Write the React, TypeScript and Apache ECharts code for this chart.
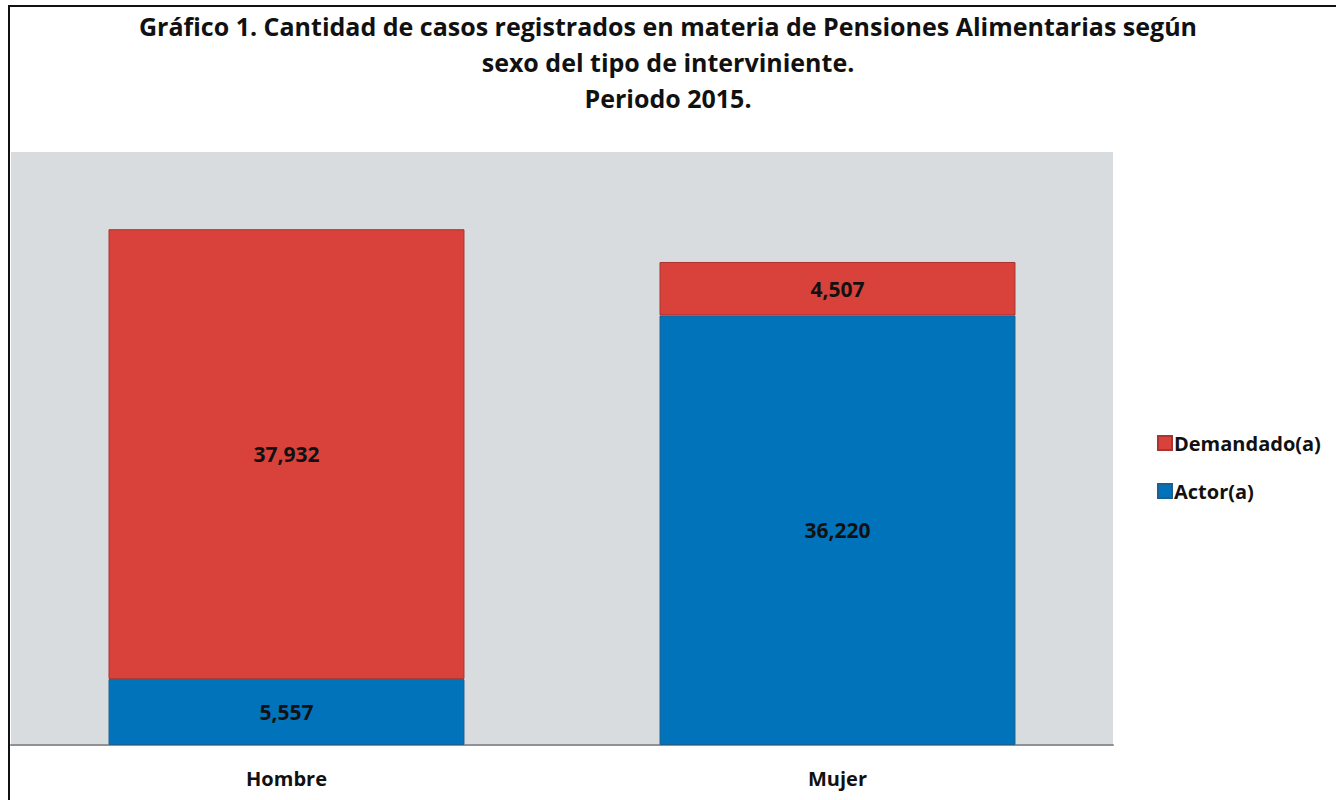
import React, { useEffect, useRef } from "react";
import * as echarts from "echarts";

const categories = ["Hombre", "Mujer"];
const actorValues = [5557, 36220];
const demandadoValues = [37932, 4507];
const seriesNames = ["Actor(a)", "Demandado(a)"];
const titleLines = [
  "Gráfico 1. Cantidad de casos registrados en materia de Pensiones Alimentarias según",
  "sexo del tipo de interviniente.",
  "Periodo 2015.",
];

const FONT = "'Open Sans', sans-serif";

export default function App() {
  const ref = useRef<HTMLDivElement>(null);
  useEffect(() => {
    if (!ref.current) return;
    const chart = echarts.init(ref.current, null, { renderer: "svg" });
    const fmt = (p: any) => Number(p.value).toLocaleString("en-US");
    const labelStyle = {
      show: true,
      position: "inside",
      formatter: fmt,
      color: "#111",
      fontFamily: FONT,
      fontWeight: "bold",
      fontSize: 21,
    };
    chart.setOption({
      animation: false,
      backgroundColor: "#ffffff",
      title: {
        text: titleLines.join("\n"),
        left: "center",
        top: 3,
        textStyle: {
          fontFamily: FONT,
          fontWeight: "bold",
          fontSize: 25,
          lineHeight: 36,
          color: "#111",
        },
      },
      graphic: [
        {
          type: "rect",
          shape: { x: 9, y: 6, width: 1340, height: 810 },
          style: { fill: "none", stroke: "#111", lineWidth: 2 },
          silent: true,
        },
      ],
      legend: {
        orient: "vertical",
        left: 1152,
        top: 428,
        itemWidth: 14,
        itemHeight: 14,
        itemGap: 28,
        icon: "rect",
        data: ["Demandado(a)", "Actor(a)"],
        textStyle: {
          fontFamily: FONT,
          fontWeight: "bold",
          fontSize: 20,
          color: "#111",
          padding: [0, 0, 0, -3],
        },
      },
      grid: {
        left: 11,
        right: 223,
        top: 152,
        bottom: 55,
        show: true,
        backgroundColor: "#D9DCDF",
        borderWidth: 0,
        containLabel: false,
      },
      xAxis: {
        type: "category",
        data: categories,
        axisLine: { show: true, lineStyle: { color: "#8E9297", width: 2 } },
        axisTick: { show: false },
        axisLabel: {
          margin: 23,
          fontFamily: FONT,
          fontWeight: "bold",
          fontSize: 20,
          color: "#111",
        },
      },
      yAxis: {
        type: "value",
        min: 0,
        max: 50000,
        show: false,
        splitLine: { show: false },
      },
      series: [
        {
          name: seriesNames[0],
          type: "bar",
          stack: "total",
          barWidth: "64.6%",
          data: actorValues,
          itemStyle: { color: "#0073BA", borderColor: "#1F5F8F", borderWidth: 1 },
          label: labelStyle,
        },
        {
          name: seriesNames[1],
          type: "bar",
          stack: "total",
          barWidth: "64.6%",
          data: demandadoValues,
          itemStyle: { color: "#D9413B", borderColor: "#A93330", borderWidth: 1 },
          label: labelStyle,
        },
      ],
    });
    return () => chart.dispose();
  }, []);
  return (
    <div
      ref={ref}
      style={{ position: "fixed", left: 0, top: 0, width: 1336, height: 800 }}
    />
  );
}
